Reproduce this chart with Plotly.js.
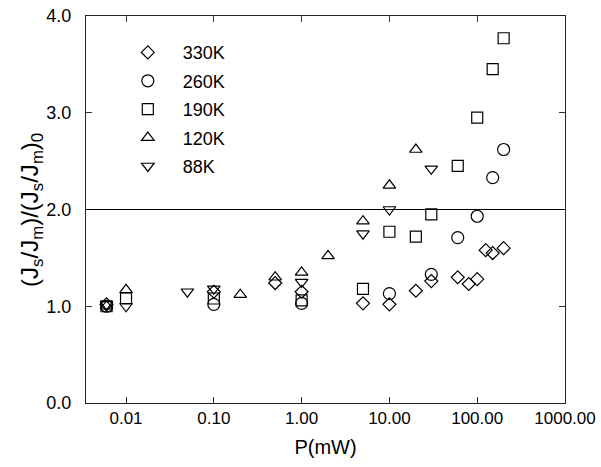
<!DOCTYPE html>
<html>
<head>
<meta charset="utf-8">
<script src="https://cdn.plot.ly/plotly-3.0.1.min.js"></script>
<style>html,body{margin:0;padding:0;background:#fff;}#chart{width:601px;height:467px;}</style>
</head>
<body>
<div id="chart"></div>
<script>
// Data
const seriesNames = ["330K", "260K", "190K", "120K", "88K"];

const p330 = [0.006, 0.1, 0.5, 1, 5, 10, 20, 30, 60, 80, 100, 125, 150, 200];
const v330 = [1.02, 1.15, 1.24, 1.15, 1.03, 1.02, 1.16, 1.26, 1.30, 1.23, 1.28, 1.58, 1.55, 1.60];

const p260 = [0.006, 0.1, 1, 10, 30, 60, 100, 150, 200];
const v260 = [1.0, 1.02, 1.03, 1.13, 1.33, 1.71, 1.93, 2.33, 2.62];

const p190 = [0.006, 0.01, 0.1, 1, 5, 10, 20, 30, 60, 100, 150, 200];
const v190 = [1.0, 1.08, 1.08, 1.06, 1.18, 1.77, 1.72, 1.95, 2.45, 2.95, 3.45, 3.77];

const p120 = [0.006, 0.01, 0.2, 0.5, 1, 2, 5, 10, 20];
const v120 = [1.0, 1.17, 1.12, 1.30, 1.35, 1.52, 1.88, 2.25, 2.62];

const p88 = [0.006, 0.01, 0.05, 0.1, 1, 5, 10, 30];
const v88 = [1.02, 1.0, 1.15, 1.18, 1.25, 1.75, 2.0, 2.42];

const xTickVals = [0.01, 0.1, 1, 10, 100, 1000];
const xTickText = ["0.01", "0.10", "1.00", "10.00", "100.00", "1000.00"];
const yTitle = "(J<sub>s</sub>/J<sub>m</sub>)/(J<sub>s</sub>/J<sub>m</sub>)<sub>0</sub>";
const xTitle = "P(mW)";

const xs = [p330, p260, p190, p120, p88];
const ys = [v330, v260, v190, v120, v88];
const symbols = ["diamond-open", "circle-open", "square-open", "triangle-up-open", "triangle-down-open"];
const sizes = [10, 12, 11, 11, 11];

const traces = seriesNames.map((name, i) => ({
  x: xs[i], y: ys[i], name: name, type: "scatter", mode: "markers",
  legendgroup: "g" + i,
  marker: {symbol: symbols[i], size: sizes[i], color: "#000", line: {color: "#000", width: 1.2}}
}));

const layout = {
  width: 601, height: 467,
  margin: {l: 86, r: 36, t: 16, b: 64},
  paper_bgcolor: "#fff", plot_bgcolor: "#fff",
  font: {family: "Liberation Sans, Arial, sans-serif", color: "#000"},
  showlegend: true,
  legend: {x: 0.056, y: 0.953, xanchor: "left", yanchor: "top", bgcolor: "rgba(0,0,0,0)",
           font: {size: 18}, itemwidth: 60, tracegroupgap: 2},
  xaxis: {
    type: "log", range: [Math.log10(0.0035), 3],
    tickvals: xTickVals, ticktext: xTickText,
    ticks: "inside", ticklen: 6, tickcolor: "#333", tickwidth: 1,
    showline: true, linecolor: "#222", linewidth: 1, mirror: "ticks",
    showgrid: false, zeroline: false,
    tickfont: {size: 17},
    title: {text: xTitle, font: {size: 20}, standoff: 12}
  },
  yaxis: {
    range: [0, 4], dtick: 1, tick0: 0, tickformat: ".1f", ticksuffix: "\u00a0\u00a0",
    ticks: "inside", ticklen: 6, tickcolor: "#333", tickwidth: 1,
    showline: true, linecolor: "#222", linewidth: 1, mirror: "ticks",
    showgrid: false, zeroline: false,
    tickfont: {size: 18}
  },
  annotations: [{text: yTitle, xref: "paper", yref: "paper", x: -54 / 479, y: 0.499,
                 xanchor: "center", yanchor: "middle", textangle: -90, showarrow: false,
                 font: {size: 24}}],
  shapes: [{type: "line", xref: "paper", x0: 0, x1: 1, yref: "y", y0: 2, y1: 2,
            line: {color: "#000", width: 1}}]
};

Plotly.newPlot("chart", traces, layout, {displayModeBar: false, staticPlot: true});
</script>
</body>
</html>
